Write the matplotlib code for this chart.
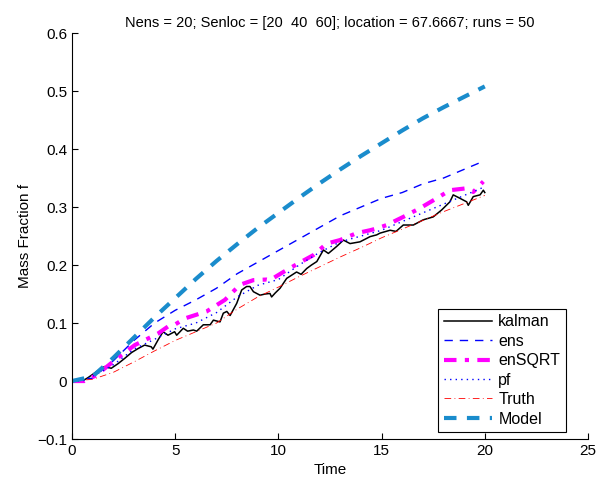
import matplotlib
matplotlib.use("Agg")
from matplotlib import pyplot as plt

plt.rcParams['font.family'] = ['Liberation Sans', 'DejaVu Sans']

# Values
t_kalman = [0, 0.5, 0.78, 1.02, 1.42, 1.58, 1.9, 2.23, 2.55, 2.88, 3.2, 3.52, 3.84, 3.92,
            4.17, 4.41, 4.65, 4.97, 5.07, 5.39, 5.6, 5.88, 6.04, 6.36, 6.69, 6.85, 7.17,
            7.33, 7.5, 7.66, 7.98, 8.22, 8.46, 8.62, 8.79, 9.11, 9.35, 9.59, 9.67, 9.85,
            10.08, 10.4, 10.88, 11.1, 11.37, 11.6, 11.86, 12.18, 12.42, 12.82, 13.15,
            13.47, 13.95, 14.28, 14.44, 14.76, 14.92, 15.41, 15.7, 16.05, 16.54, 17.02,
            17.5, 17.91, 18.31, 18.47, 18.8, 19.12, 19.2, 19.44, 19.77, 19.93, 20]
kalman = [0, 0.0, 0.006, 0.012, 0.022, 0.025, 0.022, 0.03, 0.039, 0.049, 0.056, 0.062,
          0.059, 0.055, 0.071, 0.085, 0.079, 0.085, 0.079, 0.091, 0.086, 0.088, 0.086,
          0.097, 0.097, 0.105, 0.102, 0.117, 0.12, 0.113, 0.134, 0.157, 0.163, 0.163,
          0.154, 0.148, 0.15, 0.151, 0.145, 0.152, 0.16, 0.177, 0.188, 0.184, 0.194, 0.2,
          0.206, 0.226, 0.22, 0.232, 0.243, 0.237, 0.24, 0.246, 0.249, 0.252, 0.255, 0.26,
          0.258, 0.269, 0.269, 0.278, 0.283, 0.295, 0.309, 0.321, 0.315, 0.309, 0.303,
          0.318, 0.321, 0.329, 0.325]

t_sqrt = [0, 0.6, 1.18, 1.73, 2.4, 3.04, 3.44, 4.17, 4.65, 4.97, 5.47, 6.52, 7.41, 8.14,
          8.79, 9.43, 9.59, 10.24, 10.97, 11.69, 12.34, 12.98, 13.79, 14.44, 14.76, 15.25,
          16.05, 16.86, 17.67, 18.31, 19.04, 19.44, 19.93]
ensqrt = [0, 0.0, 0.01, 0.026, 0.045, 0.062, 0.069, 0.082, 0.094, 0.097, 0.108, 0.12,
          0.14, 0.166, 0.174, 0.175, 0.174, 0.188, 0.203, 0.217, 0.237, 0.243, 0.255,
          0.26, 0.263, 0.269, 0.283, 0.298, 0.315, 0.329, 0.332, 0.326, 0.344]

t_pf = [0, 0.5, 1, 2, 3, 4, 5, 6, 7, 8, 9, 10, 11, 12, 13, 14, 15, 16, 17, 18, 19, 20]
pf = [0, 0.0, 0.008, 0.028, 0.055, 0.072, 0.09, 0.1, 0.118, 0.145, 0.165, 0.175, 0.2,
      0.222, 0.24, 0.25, 0.26, 0.275, 0.29, 0.305, 0.32, 0.335]

t_smooth = [0, 1, 2, 3, 4, 5, 6, 7, 8, 9, 10, 11, 12, 13, 14, 15, 16, 17, 18, 19, 20]
ens = [0, 0.005, 0.035, 0.07, 0.1, 0.122, 0.14, 0.16, 0.185, 0.205, 0.225, 0.245, 0.265,
       0.285, 0.3, 0.315, 0.325, 0.34, 0.35, 0.365, 0.38]
truth = [0, 0.003, 0.015, 0.033, 0.052, 0.07, 0.085, 0.1, 0.124, 0.145, 0.162, 0.18,
         0.197, 0.214, 0.23, 0.247, 0.262, 0.277, 0.292, 0.306, 0.32]
model = [0, 0.008, 0.04, 0.075, 0.11, 0.143, 0.176, 0.207, 0.236, 0.264, 0.29, 0.316,
         0.341, 0.365, 0.388, 0.41, 0.432, 0.453, 0.472, 0.49, 0.508]

fig = plt.figure(figsize=(6.13, 4.83), dpi=100)
ax = fig.add_axes([0.1175, 0.091, 0.8417, 0.8406])

ax.plot(t_kalman, kalman, color='black', lw=1.1, label='kalman')
ax.plot(t_smooth, ens, color='blue', lw=1.0, ls=(0, (6, 5)), label='ens')
ax.plot(t_sqrt, ensqrt, color='magenta', lw=3.0, ls=(0, (3, 2, 1, 2)), label='enSQRT')
ax.plot(t_pf, pf, color='blue', lw=1.0, ls=(0, (1, 3)), label='pf')
ax.plot(t_smooth, truth, color='red', lw=0.6, ls=(0, (8, 4, 1, 4)), label='Truth')
ax.plot(t_smooth, model, color='#1a8ccc', lw=3.0, ls=(0, (3, 2.5)), label='Model')

ax.set_xlim(0, 25)
ax.set_ylim(-0.1, 0.6)
ax.set_xticks([0, 5, 10, 15, 20, 25])
ax.set_yticks([-0.1, 0, 0.1, 0.2, 0.3, 0.4, 0.5, 0.6])
ax.set_yticklabels(['\u22120.1', '0', '0.1', '0.2', '0.3', '0.4', '0.5', '0.6'])
ax.tick_params(direction='in', labelsize=11, length=4)
ax.spines['top'].set_visible(False)
ax.spines['right'].set_visible(False)

ax.set_xlabel('Time', fontsize=11)
ax.set_ylabel('Mass Fraction f', fontsize=11)
ax.set_title('Nens = 20; Senloc = [20  40  60]; location = 67.6667; runs = 50',
             fontsize=10.5, pad=4)

leg = ax.legend(loc='lower right', bbox_to_anchor=(0.957, 0.017), fontsize=11.5,
                fancybox=False, edgecolor='black', framealpha=1, handlelength=3.0,
                labelspacing=0.28, borderpad=0.35, handletextpad=0.4, borderaxespad=0)
leg.get_frame().set_linewidth(0.8)

fig.savefig('out.png', dpi=100)
